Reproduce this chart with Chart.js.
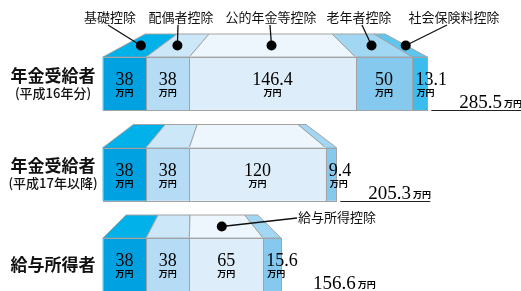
<!DOCTYPE html>
<html><head><meta charset="utf-8">
<script src="https://cdn.jsdelivr.net/npm/chart.js@4/dist/chart.umd.min.js"></script>
<style>html,body{margin:0;padding:0;background:#fff;overflow:hidden}#wrap{position:relative;width:521px;height:291px}</style>
</head><body><div id="wrap"><canvas id="c" width="521" height="291"></canvas></div>
<script>
// ---- data ----
const categories = ['年金受給者(平成16年分)', '年金受給者(平成17年以降)', '給与所得者'];
const categoryMain = ['年金受給者', '年金受給者', '給与所得者'];
const categorySub = ['(平成16年分)', '(平成17年以降)', ''];
const seriesNames = ['基礎控除', '配偶者控除', '公的年金等控除', '老年者控除', '社会保険料控除'];
const basicDeduction = [38, 38, 38];
const spouseDeduction = [38, 38, 38];
const pensionOrSalaryDeduction = [146.4, 120, 65];
const elderlyDeduction = [50, 0, 0];
const socialInsuranceDeduction = [13.1, 9.4, 15.6];
const totals = [285.5, 205.3, 156.6];
const unitLabel = '万円';
const calloutTexts = ['基礎控除', '配偶者控除', '公的年金等控除', '老年者控除', '社会保険料控除', '給与所得控除'];

// ---- styles ----
const frontColors = [
  ['#00a1e1', '#00a1e1', '#00a1e1'],
  ['#b5dcf4', '#b5dcf4', '#b5dcf4'],
  ['#ddeefa', '#ddeefa', '#ddeefa'],
  ['#86c9ef', '#86c9ef', '#86c9ef'],
  ['#3bbcee', '#86c9ef', '#86c9ef']
];
const topColors = [
  ['#00b1ea', '#00b1ea', '#00b1ea'],
  ['#cce7f8', '#cce7f8', '#cce7f8'],
  ['#eef6fd', '#eef6fd', '#eef6fd'],
  ['#a2d7f4', '#a2d7f4', '#a2d7f4'],
  ['#5cc6f1', '#a2d7f4', '#a2d7f4']
];
const EDGE = '#a3a3a3';
const NUMFONT = '"Liberation Serif","DejaVu Serif",serif';
const CJK = '"Noto Sans CJK JP","Noto Sans CJK SC",sans-serif';
const DEPTH = 23, SHRINK = 0.74;

const seriesData = [basicDeduction, spouseDeduction, pensionOrSalaryDeduction, elderlyDeduction, socialInsuranceDeduction];

// callouts: [textIndex, barIndex, segIndex, labelCx, labelCy, lineStartX, lineStartY, align, dotShift]
const callouts = [
  [0, 0, 0, 110, 17, 108, 25, 'center', -2],
  [1, 0, 1, 181, 17, 178, 25, 'center', -3],
  [2, 0, 2, 271, 17, 270, 25, 'center', 0],
  [3, 0, 3, 359, 17, 362, 25, 'center', 3],
  [4, 0, 4, 454, 17, 447, 25, 'center', 6],
  [5, 2, 2, 298, 217, 297, 218, 'left', 0]
];

function barGeom(chart, bar) {
  const segs = [];
  chart.data.datasets.forEach((ds, d) => {
    const el = chart.getDatasetMeta(d).data[bar];
    if (!el || !ds.data[bar]) return;
    const p = el.getProps(['x', 'y', 'base', 'height'], true);
    segs.push({ d, x0: Math.min(p.x, p.base), x1: Math.max(p.x, p.base), top: p.y - p.height / 2, bottom: p.y + p.height / 2, y: p.y });
  });
  const L = segs[0].x0, R = segs[segs.length - 1].x1, C = (L + R) / 2;
  const t = x => C + SHRINK * (x - C);
  return { segs, L, R, C, t };
}

const deco = {
  id: 'deco',
  beforeDatasetsDraw(chart) {
    const ctx = chart.ctx;
    ctx.save();
    for (let b = 0; b < categories.length; b++) {
      const g = barGeom(chart, b);
      g.segs.forEach(s => {
        const yt = s.top - DEPTH;
        ctx.beginPath();
        ctx.moveTo(s.x0, s.top);
        ctx.lineTo(s.x1, s.top);
        ctx.lineTo(g.t(s.x1), yt);
        ctx.lineTo(g.t(s.x0), yt);
        ctx.closePath();
        ctx.fillStyle = topColors[s.d][b];
        ctx.fill();
        ctx.strokeStyle = EDGE;
        ctx.lineWidth = 1;
        ctx.stroke();
      });
    }
    ctx.restore();
  },
  afterDatasetsDraw(chart) {
    const ctx = chart.ctx;
    ctx.save();
    for (let b = 0; b < categories.length; b++) {
      const g = barGeom(chart, b);
      g.segs.forEach(s => {
        ctx.strokeStyle = EDGE; ctx.lineWidth = 1;
        ctx.strokeRect(Math.round(s.x0) + 0.5, Math.round(s.top) + 0.5, Math.round(s.x1) - Math.round(s.x0), Math.round(s.bottom - s.top));
      });
      g.segs.forEach(s => {
        const v = chart.data.datasets[s.d].data[b];
        const w = s.x1 - s.x0;
        const narrow = w < 30;
        const x = narrow ? s.x0 + 3 : (s.x0 + s.x1) / 2;
        ctx.fillStyle = '#000';
        ctx.textAlign = narrow ? 'left' : 'center';
        ctx.textBaseline = 'alphabetic';
        ctx.font = '18px ' + NUMFONT;
        ctx.fillText(String(v), x, s.top + 28);
        ctx.font = 'bold 9px ' + CJK;
        ctx.textBaseline = 'middle';
        ctx.fillText(unitLabel, narrow ? x + 1 : x, s.top + 36);
      });
      const top = g.segs[0].top, bottom = g.segs[0].bottom;
      ctx.strokeStyle = '#222'; ctx.lineWidth = 1;
      ctx.beginPath(); ctx.moveTo(g.R + 4, Math.round(bottom) + 0.5); ctx.lineTo(g.R + 94, Math.round(bottom) + 0.5); ctx.stroke();
      ctx.fillStyle = '#000';
      ctx.textAlign = 'left'; ctx.textBaseline = 'alphabetic';
      ctx.font = '19px ' + NUMFONT;
      const tx = g.R + 32;
      const ts = totals[b].toFixed(1);
      ctx.fillText(ts, tx, bottom - 2);
      const tw = ctx.measureText(ts).width;
      ctx.font = 'bold 9px ' + CJK;
      ctx.fillText(unitLabel, tx + tw + 2, bottom - 3);
      ctx.textAlign = 'center';
      ctx.textBaseline = 'middle';
      ctx.fillStyle = '#111';
      if (categorySub[b]) {
        ctx.font = 'bold 17px ' + CJK;
        ctx.fillText(categoryMain[b], 53, top + 18.5);
        ctx.font = '500 13px ' + CJK;
        ctx.fillText(categorySub[b], 53, top + 36);
      } else {
        ctx.font = 'bold 17px ' + CJK;
        ctx.fillText(categoryMain[b], 53, (top + bottom) / 2);
      }
    }
    callouts.forEach(c => {
      const [ti, b, si, lx, ly, sx, sy, al, shift] = c;
      const g = barGeom(chart, b);
      const s = g.segs.find(q => q.d === si);
      const ym = s.top - DEPTH / 2;
      const m = x => (x + g.t(x)) / 2;
      const dx = (m(s.x0) + m(s.x1)) / 2 + shift;
      ctx.strokeStyle = '#111'; ctx.lineWidth = 1.3;
      ctx.beginPath(); ctx.moveTo(sx, sy); ctx.lineTo(dx, ym); ctx.stroke();
      ctx.fillStyle = '#000';
      ctx.beginPath(); ctx.arc(dx, ym, 5, 0, Math.PI * 2); ctx.fill();
      ctx.font = '13px ' + CJK;
      ctx.textAlign = al; ctx.textBaseline = 'middle';
      ctx.fillStyle = '#111';
      ctx.fillText(calloutTexts[ti], lx, ly);
    });
    ctx.restore();
  }
};

new Chart(document.getElementById('c'), {
  type: 'bar',
  data: {
    labels: categories,
    datasets: seriesData.map((arr, i) => ({
      label: seriesNames[i],
      data: arr,
      backgroundColor: frontColors[i],
      borderWidth: 0,
      barThickness: 53,
      clip: false
    }))
  },
  options: {
    indexAxis: 'y',
    responsive: false,
    devicePixelRatio: 1,
    animation: false,
    layout: { padding: { left: 103, right: 0, top: 83.5, bottom: 26.5 } },
    scales: {
      x: { stacked: true, min: 0, max: 368, display: false },
      y: { stacked: true, offset: false, display: false }
    },
    plugins: { legend: { display: false }, tooltip: { enabled: false } }
  },
  plugins: [deco]
});
</script></body></html>
